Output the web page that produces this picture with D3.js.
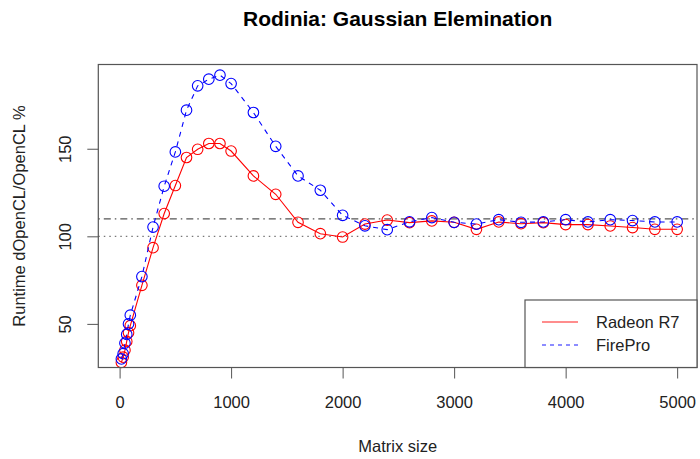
<!DOCTYPE html>
<html><head><meta charset="utf-8">
<script src="https://cdn.jsdelivr.net/npm/d3@7"></script>
<style>body{margin:0;background:#fff}text{font-family:"Liberation Sans",Arial,Helvetica,sans-serif}</style>
</head><body><svg id="c" width="700" height="459"></svg>
<script>
const sizes = [16,32,48,64,80,96,200,300,400,500,600,700,800,900,1000,1200,1400,1600,1800,2000,2200,2400,2600,2800,3000,3200,3400,3600,3800,4000,4200,4400,4600,4800,5000];
const radeon = [28,31,35,40,45,49,72,93.5,113,129,145,149.7,153,153,148.7,134.5,124,108,101.5,99.6,107,109.3,107.8,108.8,108,104,108.2,107.2,107.8,106.7,106.7,105.9,105,104,104];
const firepro = [30,33,39,44,50,55,77,105.3,128.6,148.2,172,185.9,189.7,192,187.2,170.7,151.4,134.5,126.3,112,106,103.8,108.3,110.7,108,107,109.5,108,108.2,109.5,108.2,109.5,109,108.2,108.2];
const xTicks = [0,1000,2000,3000,4000,5000];
const yTicks = [50,100,150];
const refLines = [{v:110, dash:"1.5,4,7,4", color:"#555"},{v:100, dash:"1.5,4", color:"#777"}];
const seriesNames = ["Radeon R7","FirePro"];
const seriesColors = ["#ff0000","#0000ff"];

const L=98.3,R=697,T=64.5,B=367.5;
const svg=d3.select("#c");
const x=d3.scaleLinear().domain([-191,5178]).range([L,R]);
const y=d3.scaleLinear().domain([25.1,198.1]).range([B,T]);

svg.append("text").attr("x",(L+R)/2).attr("y",26).attr("text-anchor","middle")
  .attr("font-weight","bold").attr("font-size",21).attr("fill","#000").text("Rodinia: Gaussian Elemination");

refLines.forEach(r=>{
  svg.append("line").attr("x1",L).attr("x2",R).attr("y1",y(r.v)).attr("y2",y(r.v))
    .attr("stroke",r.color).attr("stroke-width",1.2).attr("stroke-dasharray",r.dash);
});

const line=d3.line().x((d,i)=>x(sizes[i])).y(d=>y(d));
const series=[{vals:radeon,color:seriesColors[0],dash:null},{vals:firepro,color:seriesColors[1],dash:"5,5"}];
series.forEach(s=>{
  svg.append("path").datum(s.vals).attr("d",line).attr("fill","none")
    .attr("stroke",s.color).attr("stroke-width",1.1).attr("stroke-dasharray",s.dash);
  svg.append("g").selectAll("circle").data(s.vals).join("circle")
    .attr("cx",(d,i)=>x(sizes[i])).attr("cy",d=>y(d)).attr("r",5.3)
    .attr("fill","none").attr("stroke",s.color).attr("stroke-width",1.1);
});

svg.append("rect").attr("x",L).attr("y",T).attr("width",R-L).attr("height",B-T)
  .attr("fill","none").attr("stroke","#555").attr("stroke-width",1.2);

const xa=d3.axisBottom(x).tickValues(xTicks).tickSize(11).tickPadding(18).tickFormat(d3.format("d"));
const gx=svg.append("g").attr("transform",`translate(0,${B})`).call(xa);
gx.select(".domain").remove();
gx.selectAll("line").attr("stroke","#555");
gx.selectAll("text").attr("font-size",16.5).attr("fill","#222").attr("font-family","Liberation Sans, Arial, sans-serif");

const ya=d3.axisLeft(y).tickValues(yTicks).tickSize(11).tickFormat(d3.format("d"));
const gy=svg.append("g").attr("transform",`translate(${L},0)`).call(ya);
gy.select(".domain").remove();
gy.selectAll("line").attr("stroke","#555");
gy.selectAll("text").attr("font-size",16.5).attr("fill","#222").attr("font-family","Liberation Sans, Arial, sans-serif")
  .attr("transform","rotate(-90)").attr("x",0).attr("dy",null).attr("y",-27).attr("text-anchor","middle");

svg.append("text").attr("x",(L+R)/2).attr("y",452).attr("text-anchor","middle").attr("font-size",16.5).attr("fill","#222").text("Matrix size");
svg.append("text").attr("transform",`translate(25,${(T+B)/2}) rotate(-90)`).attr("text-anchor","middle").attr("font-size",16.5).attr("fill","#222").text("Runtime dOpenCL/OpenCL %");

const lg=svg.append("g");
lg.append("rect").attr("x",525).attr("y",300).attr("width",R-525).attr("height",B-300).attr("fill","#fff").attr("stroke","#555").attr("stroke-width",1.2);
seriesNames.forEach((n,i)=>{
  const yy=322+i*23;
  lg.append("line").attr("x1",542).attr("x2",578).attr("y1",yy).attr("y2",yy).attr("stroke",seriesColors[i]).attr("stroke-opacity",0.6).attr("stroke-width",1.5).attr("stroke-dasharray",i?"4,4":null);
  lg.append("text").attr("x",596).attr("y",yy+6).attr("font-size",16.5).attr("fill","#222").text(n);
});
</script></body></html>
